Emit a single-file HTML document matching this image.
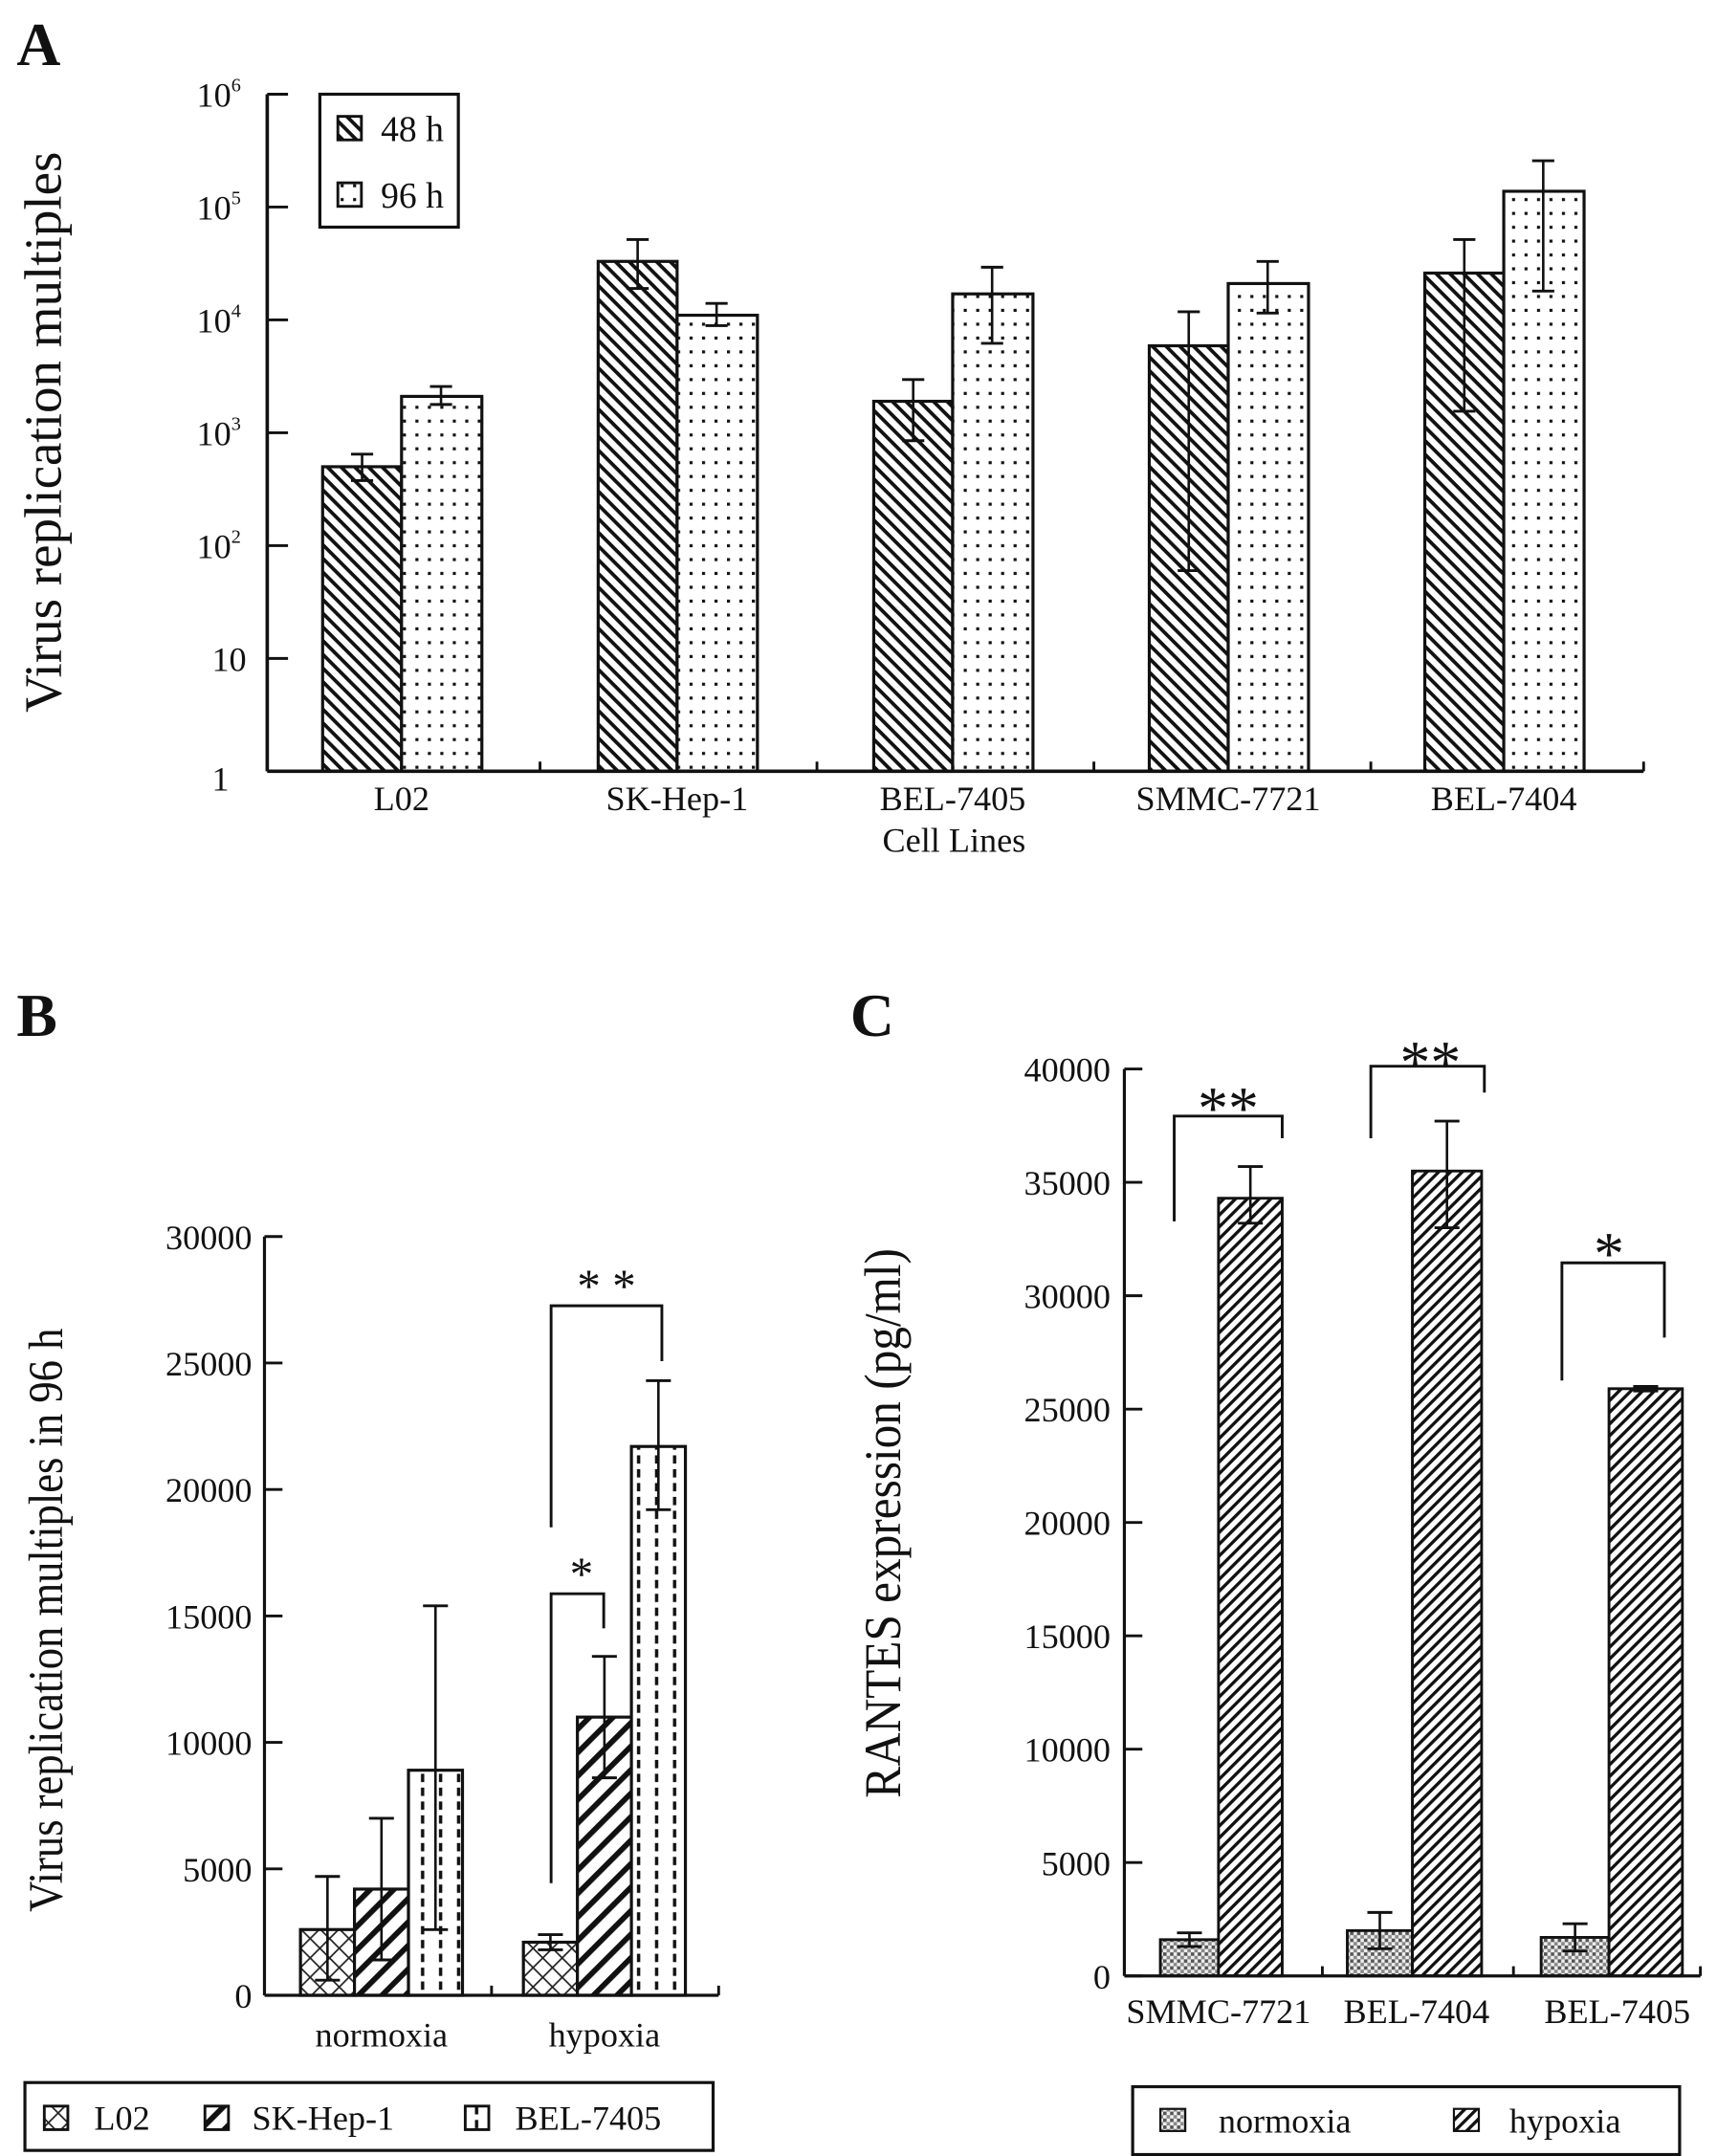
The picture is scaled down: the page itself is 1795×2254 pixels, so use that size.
<!DOCTYPE html>
<html><head><meta charset="utf-8"><style>
html,body{margin:0;padding:0;background:#fff}
svg{display:block}
text{font-family:"Liberation Serif",serif;fill:#111}
</style></head><body>
<svg id="fig" width="1795" height="2254" viewBox="0 0 1240 1557" xmlns="http://www.w3.org/2000/svg">
<defs>
<pattern id="pA48" patternUnits="userSpaceOnUse" width="7" height="7" patternTransform="rotate(45)"><rect width="7" height="7" fill="#fff"/><rect x="0" y="0" width="7" height="2.6" fill="#111"/></pattern>
<pattern id="pA96" patternUnits="userSpaceOnUse" width="9" height="10"><rect width="9" height="10" fill="#fff"/><rect x="3" y="3" width="2.2" height="2.2" fill="#111"/></pattern>
<pattern id="pBL" patternUnits="userSpaceOnUse" width="14" height="14"><rect width="14" height="14" fill="#fff"/><path d="M0 0L14 14M14 0L0 14" stroke="#222" stroke-width="1.2"/></pattern>
<pattern id="pBS" patternUnits="userSpaceOnUse" width="12" height="12" patternTransform="rotate(-45)"><rect width="12" height="12" fill="#fff"/><rect x="0" y="0" width="12" height="4" fill="#111"/></pattern>
<pattern id="pBB" patternUnits="userSpaceOnUse" width="13" height="10"><rect width="13" height="10" fill="#fff"/><rect x="5" y="1" width="2.4" height="6" fill="#111"/></pattern>
<pattern id="pCN" patternUnits="userSpaceOnUse" width="5" height="5"><rect width="5" height="5" fill="#eee"/><rect x="0" y="0" width="2.5" height="2.5" fill="#555"/><rect x="2.5" y="2.5" width="2.5" height="2.5" fill="#888"/></pattern>
<pattern id="pCH" patternUnits="userSpaceOnUse" width="6" height="6" patternTransform="rotate(-45)"><rect width="6" height="6" fill="#fff"/><rect x="0" y="0" width="6" height="2.3" fill="#111"/></pattern>
</defs>
<g id="gA"></g>
<g id="gB"></g>
<g id="gC"></g>
</svg>
<script>
// Panel A data (log scale)
const catsA = ["L02","SK-Hep-1","BEL-7405","SMMC-7721","BEL-7404"];
const a48 = [500, 33000, 1900, 5900, 26000];
const a48Hi = [646, 51500, 2960, 11800, 51500];
const a48Lo = [377, 19000, 850, 60, 1550];
const a96 = [2100, 11000, 17000, 21000, 138000];
const a96Hi = [2570, 14000, 29300, 33000, 257000];
const a96Lo = [1780, 8900, 6200, 11500, 18000];
const ticksA = [1,10,100,1000,10000,100000,1000000];
// Panel B data
const catsB = ["normoxia","hypoxia"];
const bL02 = [2600, 2100], bL02Hi=[4700,2400], bL02Lo=[600,1800];
const bSK = [4200, 11000], bSKHi=[7000,13400], bSKLo=[1400,8600];
const bBEL = [8900, 21700], bBELHi=[15400,24300], bBELLo=[2600,19200];
const ticksB = [0,5000,10000,15000,20000,25000,30000];
// Panel C data
const catsC = ["SMMC-7721","BEL-7404","BEL-7405"];
const cNorm = [1600, 2000, 1700], cNormHi=[1900,2800,2300], cNormLo=[1300,1200,1100];
const cHyp = [34300, 35500, 25900], cHypHi=[35700,37700,26000], cHypLo=[33200,33000,25800];
const ticksC = [0,5000,10000,15000,20000,25000,30000,35000,40000];

const NS="http://www.w3.org/2000/svg";
function mk(parent,tag,attrs,txt){const e=document.createElementNS(NS,tag);for(const k in attrs)e.setAttribute(k,attrs[k]);if(txt!==undefined)e.textContent=txt;parent.appendChild(e);return e;}
function line(p,x1,y1,x2,y2,w){return mk(p,"line",{x1,y1,x2,y2,stroke:"#111","stroke-width":w||2});}
function errbar(p,x,y1,y2,cap){const g=mk(p,"g",{});


line(g,x,y1,x,y2,1.8);line(g,x-cap,y1,x+cap,y1,2);line(g,x-cap,y2,x+cap,y2,2);}

// ---------- Panel A ----------
const A=document.getElementById("gA");
const ayA=v=>557-Math.log10(v)*81.5;
const axA=i=>290+i*199;
let t=mk(A,"text",{x:12,y:47,"font-size":44,"font-weight":"bold"},"A");

catsA.forEach((c,i)=>{
 const cx=axA(i), w=57;
 let r=mk(A,"rect",{x:cx-w,y:ayA(a48[i]),width:w,height:557-ayA(a48[i]),fill:"url(#pA48)",stroke:"#111","stroke-width":2.2});
 
 r=mk(A,"rect",{x:cx,y:ayA(a96[i]),width:w+1,height:557-ayA(a96[i]),fill:"url(#pA96)",stroke:"#111","stroke-width":2.2});
 
 errbar(A,cx-w/2,ayA(a48Hi[i]),ayA(a48Lo[i]),8);
 errbar(A,cx+w/2,ayA(a96Hi[i]),ayA(a96Lo[i]),8);
 let l=mk(A,"text",{x:cx,y:585,"font-size":25,"text-anchor":"middle"},c);
 
});
line(A,193,68,193,557,2.5);line(A,193,557,1187,557,2.5);
[390,590,790,990,1187].forEach(x=>line(A,x,557,x,550,2));
ticksA.forEach((v,i)=>{const y=ayA(v);line(A,193,y,208,y,2);
 let l=mk(A,"text",{x:i<2?153:142,y:y+(i==0?14:9),"font-size":25},"");
 
 if(i<2){l.textContent=i==0?"1":"10";}else{l.textContent="10";mk(l,"tspan",{dy:-11,"font-size":14},String(i));}
});
t=mk(A,"text",{x:0,y:0,"font-size":38,"text-anchor":"middle",transform:"translate(44,312) rotate(-90)"},"Virus replication multiples");

t=mk(A,"text",{x:689,y:615,"font-size":25,"text-anchor":"middle"},"Cell Lines");

let lg=mk(A,"g",{});
mk(lg,"rect",{x:231,y:68,width:100,height:96,fill:"#fff",stroke:"#111","stroke-width":2.2});
mk(lg,"rect",{x:244,y:84,width:17,height:17,fill:"url(#pA48)",stroke:"#111","stroke-width":2});
mk(lg,"text",{x:275,y:102,"font-size":26},"48 h");
mk(lg,"rect",{x:244,y:132,width:17,height:17,fill:"url(#pA96)",stroke:"#111","stroke-width":2});
mk(lg,"text",{x:275,y:150,"font-size":26},"96 h");

// ---------- Panel B ----------
const B=document.getElementById("gB");
const ayB=v=>1441-v*548/30000;
t=mk(B,"text",{x:12,y:748,"font-size":44,"font-weight":"bold"},"B");

const bStart=[217,378], bw=39;
const seriesB=[[bL02,bL02Hi,bL02Lo,"url(#pBL)","L02"],[bSK,bSKHi,bSKLo,"url(#pBS)","SK-Hep-1"],[bBEL,bBELHi,bBELLo,"url(#pBB)","BEL-7405"]];
catsB.forEach((c,i)=>{
 seriesB.forEach((s,j)=>{const x=bStart[i]+j*bw;
  let r=mk(B,"rect",{x:x,y:ayB(s[0][i]),width:bw,height:1441-ayB(s[0][i]),fill:s[3],stroke:"#111","stroke-width":2.2});
  
 });
 seriesB.forEach((s,j)=>{const x=bStart[i]+j*bw;errbar(B,x+bw/2,ayB(s[1][i]),ayB(s[2][i]),9);});
 let l=mk(B,"text",{x:bStart[i]+1.5*bw,y:1478,"font-size":25,"text-anchor":"middle"},c);
 
});
line(B,191,893,191,1441,2.2);line(B,191,1441,519,1441,2.2);line(B,355,1441,355,1434,2);line(B,519,1441,519,1434,2);
ticksB.forEach(v=>{const y=ayB(v);line(B,191,y,204,y,2);
 let l=mk(B,"text",{x:182,y:y+9,"font-size":25,"text-anchor":"end"},String(v));
 });
t=mk(B,"text",{x:0,y:0,"font-size":35,"text-anchor":"middle",transform:"translate(45,1170) rotate(-90) scale(0.88,1)"},"Virus replication multiples in 96 h");

let br=mk(B,"path",{d:"M398 1360V1151H436V1176",fill:"none",stroke:"#111","stroke-width":2});

mk(B,"text",{x:420,y:1148,"font-size":34,"text-anchor":"middle"},"*");
br=mk(B,"path",{d:"M398 1103V943H478V983",fill:"none",stroke:"#111","stroke-width":2});

mk(B,"text",{x:438,y:940,"font-size":34,"text-anchor":"middle"},"* *");
lg=mk(B,"g",{});
mk(lg,"rect",{x:18,y:1504,width:497,height:49,fill:"#fff",stroke:"#111","stroke-width":2.2});
[[32,68,"url(#pBL)","L02"],[148,182,"url(#pBS)","SK-Hep-1"],[336,372,"url(#pBB)","BEL-7405"]].forEach(e=>{
 mk(lg,"rect",{x:e[0],y:1521,width:17,height:17,fill:e[2],stroke:"#111","stroke-width":2});
 mk(lg,"text",{x:e[1],y:1538,"font-size":25},e[3]);});

// ---------- Panel C ----------
const C=document.getElementById("gC");
const ayC=v=>1427-v*655/40000;
t=mk(C,"text",{x:614,y:748,"font-size":44,"font-weight":"bold"},"C");

const cx0=[880,1020,1162], cnw=[42,47,49], chw=[46,50,53];
catsC.forEach((c,i)=>{
 const x=cx0[i];
 let r=mk(C,"rect",{x:x-cnw[i],y:ayC(cNorm[i]),width:cnw[i],height:1427-ayC(cNorm[i]),fill:"url(#pCN)",stroke:"#111","stroke-width":2});
 
 r=mk(C,"rect",{x:x,y:ayC(cHyp[i]),width:chw[i],height:1427-ayC(cHyp[i]),fill:"url(#pCH)",stroke:"#111","stroke-width":2});
 
 errbar(C,x-cnw[i]/2,ayC(cNormHi[i]),ayC(cNormLo[i]),9);
 errbar(C,x+chw[i]/2,ayC(cHypHi[i]),ayC(cHypLo[i]),9);
 let l=mk(C,"text",{x:[880,1023,1168][i],y:1461,"font-size":25,"text-anchor":"middle"},c);
 
});
line(C,812,772,812,1427,2.2);line(C,812,1427,1228,1427,2.2);
[955,1093,1228].forEach(x=>line(C,x,1427,x,1420,2));
ticksC.forEach(v=>{const y=ayC(v);line(C,812,y,825,y,2);
 let l=mk(C,"text",{x:802,y:y+9,"font-size":25,"text-anchor":"end"},String(v));
 });
t=mk(C,"text",{x:0,y:0,"font-size":37,"text-anchor":"middle",transform:"translate(650,1100) rotate(-90) scale(0.92,1)"},"RANTES expression (pg/ml)");

[["M848 882V806H926V822",887,815,"**"],["M990 822V770H1072V789",1033,782,"**"],["M1128 997V912H1202V966",1162,920,"*"]].forEach(b=>{
 let p=mk(C,"path",{d:b[0],fill:"none",stroke:"#111","stroke-width":2});
 
 mk(C,"text",{x:b[1],y:b[2],"font-size":44,"text-anchor":"middle"},b[3]);});
lg=mk(C,"g",{});
mk(lg,"rect",{x:818,y:1507,width:395,height:49,fill:"#fff",stroke:"#111","stroke-width":2.2});
mk(lg,"rect",{x:838,y:1523,width:18,height:16,fill:"url(#pCN)",stroke:"#111","stroke-width":1.5});
mk(lg,"text",{x:880,y:1540,"font-size":25},"normoxia");
mk(lg,"rect",{x:1050,y:1523,width:18,height:16,fill:"url(#pCH)",stroke:"#111","stroke-width":1.5});
mk(lg,"text",{x:1090,y:1540,"font-size":25},"hypoxia");
</script>
</body></html>
